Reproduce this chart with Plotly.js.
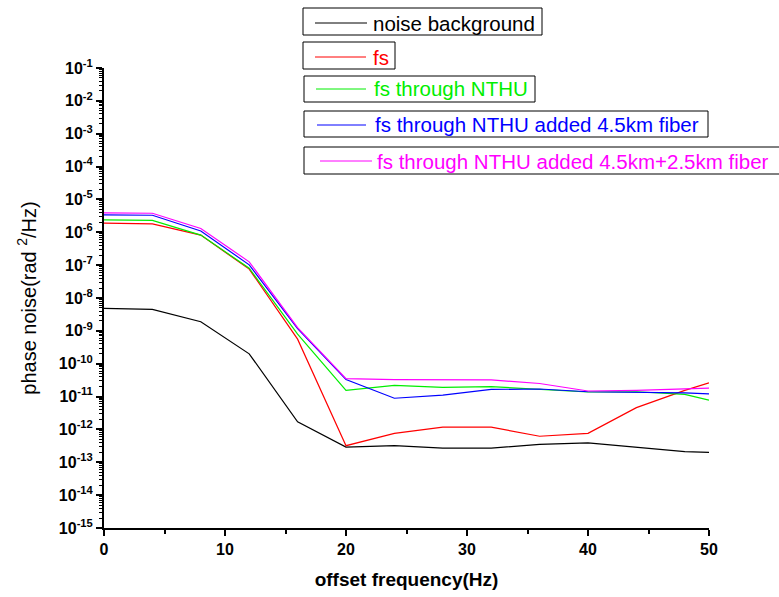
<!DOCTYPE html>
<html>
<head>
<meta charset="utf-8">
<script src="https://cdn.plot.ly/plotly-3.0.1.min.js"></script>
<style>html,body{margin:0;padding:0;background:#fff;}#chart{width:779px;height:597px;}</style>
</head>
<body>
<div id="chart"></div>
<script>
const freq = [0, 4, 8, 12, 16, 20, 24, 28, 32, 36, 40, 44, 48, 50];
const noiseBackground = [4.8e-9, 4.5e-9, 1.9e-9, 2.0e-10, 1.7e-12, 2.9e-13, 3.2e-13, 2.7e-13, 2.7e-13, 3.5e-13, 3.9e-13, 2.9e-13, 2.1e-13, 2.0e-13];
const fs = [1.9e-6, 1.8e-6, 8.2e-7, 7.6e-8, 5.6e-10, 3.2e-13, 7.6e-13, 1.18e-12, 1.17e-12, 6.2e-13, 7.6e-13, 4.6e-12, 1.55e-11, 2.6e-11];
const fsNTHU = [2.4e-6, 2.3e-6, 8.2e-7, 8.1e-8, 8.0e-10, 1.55e-11, 2.2e-11, 1.9e-11, 2.0e-11, 1.7e-11, 1.38e-11, 1.4e-11, 1.17e-11, 7.8e-12];
const fsNTHU45 = [3.4e-6, 3.3e-6, 1.1e-6, 1.02e-7, 1.17e-9, 3.3e-11, 8.9e-12, 1.1e-11, 1.65e-11, 1.7e-11, 1.4e-11, 1.38e-11, 1.3e-11, 1.2e-11];
const fsNTHU45_25 = [3.9e-6, 3.8e-6, 1.3e-6, 1.26e-7, 1.25e-9, 3.5e-11, 3.3e-11, 3.2e-11, 3.2e-11, 2.5e-11, 1.48e-11, 1.55e-11, 1.7e-11, 1.8e-11];
const seriesNames = ["noise background", "fs", "fs through NTHU", "fs through NTHU added 4.5km fiber", "fs through NTHU added 4.5km+2.5km fiber"];
const seriesColors = ["#000000", "#ff0000", "#00ee00", "#0000ff", "#ff00ff"];
const yExponents = [-15, -14, -13, -12, -11, -10, -9, -8, -7, -6, -5, -4, -3, -2, -1];
const xTicks = [0, 10, 20, 30, 40, 50];

const seriesData = [noiseBackground, fs, fsNTHU, fsNTHU45, fsNTHU45_25];
const traces = seriesData.map((ys, i) => ({
  x: freq, y: ys, type: "scatter", mode: "lines",
  name: seriesNames[i], showlegend: false,
  line: {color: seriesColors[i], width: 1.2}
}));

// plot-area geometry in pixels (for placing the boxed legend entries)
const L = 104, T = 68, W = 605, H = 460;
const px = v => (v - L) / W;
const py = v => (T + H - v) / H;
// legend boxes: [left, top, right, bottom, lineStart, lineEnd, lineY, textStart]
const legendBoxes = [
  [303, 8, 542, 35, 315, 367, 23, 372],
  [303, 42, 395, 69, 315, 366, 57, 372],
  [304, 76, 535, 102, 316, 366, 89, 373],
  [304, 111, 708, 137, 317, 366, 125, 374],
  [304, 147, 790, 174, 320, 372, 161, 376]
];
const shapes = [], annotations = [];
legendBoxes.forEach((b, i) => {
  shapes.push({type: "rect", xref: "paper", yref: "paper", x0: px(b[0]), x1: px(b[2]), y0: py(b[1]), y1: py(b[3]),
    line: {color: "#000", width: 1}, fillcolor: "rgba(0,0,0,0)"});
  shapes.push({type: "line", xref: "paper", yref: "paper", x0: px(b[4]), x1: px(b[5]), y0: py(b[6]), y1: py(b[6]),
    line: {color: seriesColors[i], width: 1}});
  annotations.push({xref: "paper", yref: "paper", x: px(b[7]), y: py(b[6]), xanchor: "left", yanchor: "middle",
    showarrow: false, text: seriesNames[i], borderpad: 0,
    font: {size: 20.5, color: seriesColors[i], family: "Liberation Sans, Arial, sans-serif"}});
});

const layout = {
  width: 779, height: 597,
  margin: {l: L, r: 779 - L - W, t: T, b: 597 - T - H, autoexpand: false},
  paper_bgcolor: "#fff", plot_bgcolor: "#fff",
  font: {family: "Liberation Sans, Arial, sans-serif", color: "#000"},
  showlegend: false,
  shapes: shapes, annotations: annotations,
  xaxis: {
    range: [0, 50], tickvals: xTicks, ticktext: xTicks.map(String),
    showline: true, linecolor: "#000", linewidth: 2, mirror: false,
    ticks: "outside", ticklen: 6, tickwidth: 2, tickcolor: "#000",
    minor: {ticks: "outside", ticklen: 4, tickwidth: 2, tickcolor: "#000", dtick: 5},
    showgrid: false, zeroline: false,
    tickfont: {size: 16, family: "Liberation Sans, Arial, sans-serif", weight: "bold"},
    title: {text: "<b>offset frequency(Hz)</b>", font: {size: 19}, standoff: 15}
  },
  yaxis: {
    type: "log", range: [-15, -1],
    tickvals: yExponents.map(e => Math.pow(10, e)),
    ticktext: yExponents.map(e => "10<sup>" + e + "</sup>"),
    showline: true, linecolor: "#000", linewidth: 2,
    ticks: "outside", ticklen: 6, tickwidth: 2, tickcolor: "#000",
    minor: {ticks: "outside", ticklen: 3, tickwidth: 1, tickcolor: "#000", dtick: "D1"},
    showgrid: false, zeroline: false,
    tickfont: {size: 16, family: "Liberation Sans, Arial, sans-serif", weight: "bold"},
    title: {text: "phase noise(rad <sup>2</sup>/Hz)", font: {size: 20}, standoff: 17}
  }
};
Plotly.newPlot("chart", traces, layout, {displayModeBar: false, staticPlot: true});
</script>
</body>
</html>
